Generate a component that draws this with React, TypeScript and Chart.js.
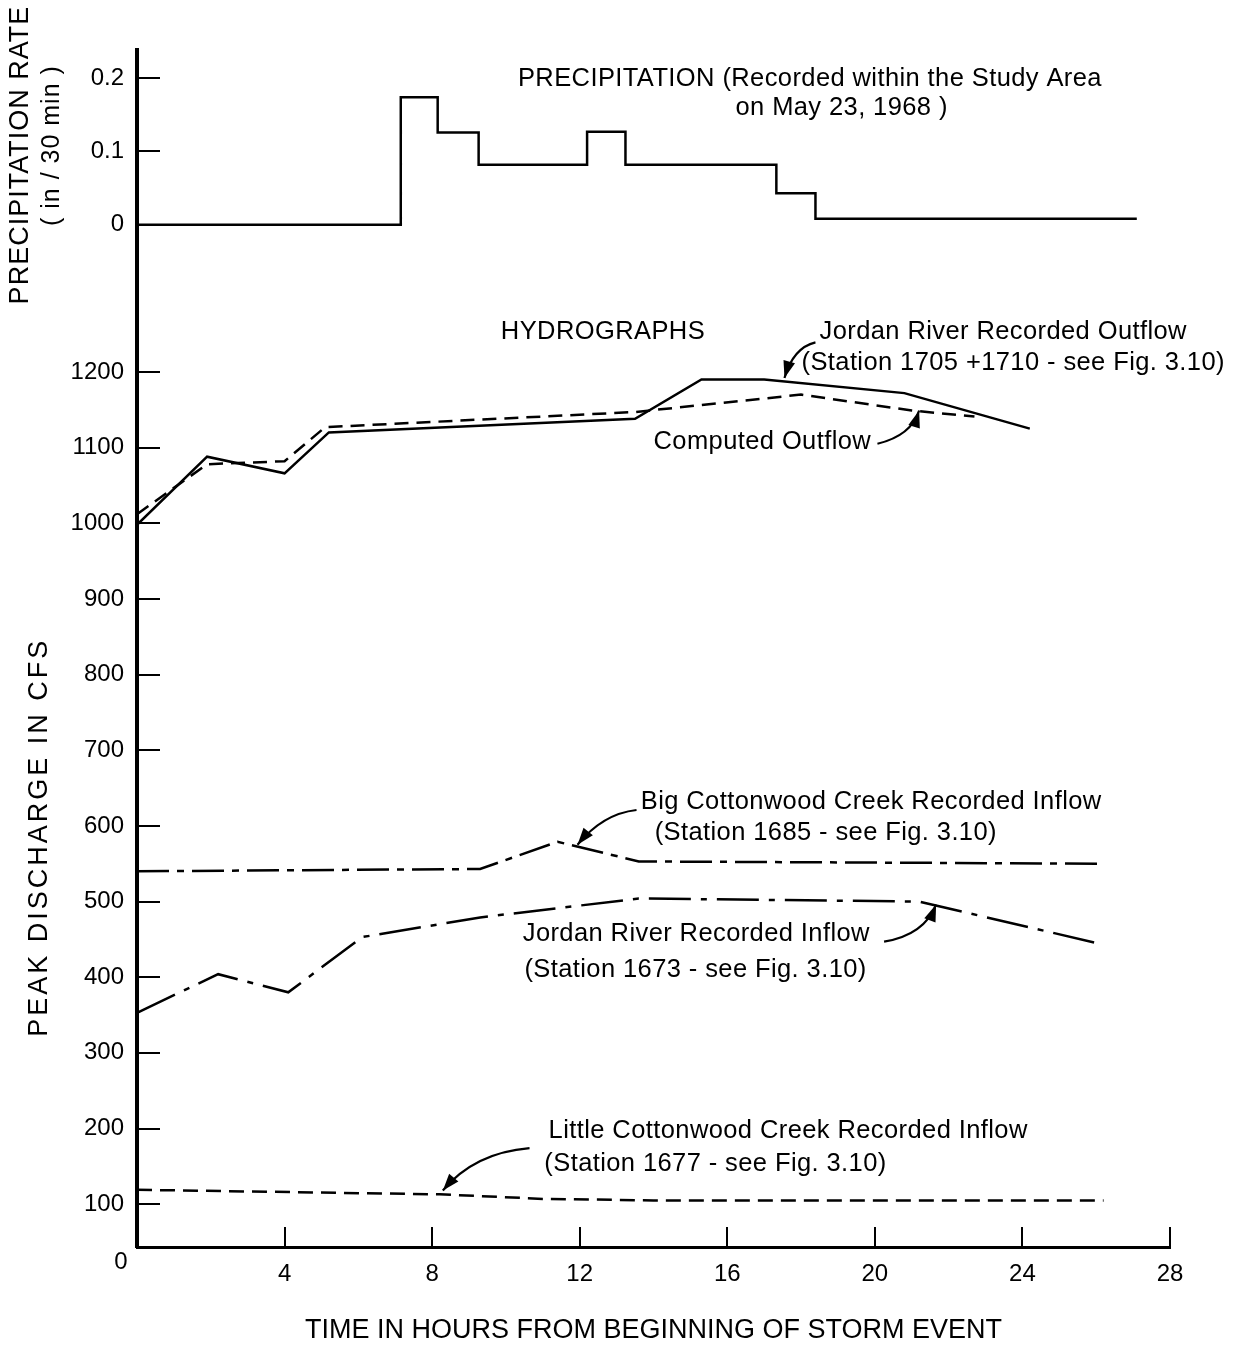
import React, { useEffect, useRef } from 'react';
import { Chart, registerables } from 'chart.js';

Chart.register(...registerables);

const FONT = "'Liberation Sans', Arial, sans-serif";

// ---- data ----
const precipHours = [0, 7.15, 8.15, 9.26, 12.2, 13.24, 17.33, 18.39, 27.1];
const precipRates = [0, 0.174, 0.126, 0.082, 0.127, 0.082, 0.043, 0.008, 0.008];

const outflowHours = [0, 1.9, 4.0, 5.2, 13.5, 15.3, 17.0, 20.8, 24.2];
const outflowCfs = [998, 1088, 1066, 1120, 1138, 1190, 1190, 1172, 1125];

const computedHours = [0, 1.9, 4.0, 5.1, 13.5, 18.0, 21.0, 22.7];
const computedCfs = [1012, 1078, 1082, 1127, 1147, 1170, 1149, 1141];

const bigCwHours = [0, 9.3, 11.4, 13.6, 26.2];
const bigCwCfs = [540, 543, 579, 553, 550];

const jordanInHours = [0, 2.2, 4.1, 6.1, 9.3, 13.6, 21.2, 26.2];
const jordanInCfs = [353, 404, 380, 453, 479, 504, 500, 443];

const littleCwHours = [0, 8.2, 11.0, 14.0, 26.2];
const littleCwCfs = [119, 113, 107, 105, 105];

const xTicks = [4, 8, 12, 16, 20, 24, 28];
const precipTicks = [0, 0.1, 0.2];
const dischargeTicks = [100, 200, 300, 400, 500, 600, 700, 800, 900, 1000, 1100, 1200];

const annotationTexts = [
  { text: 'PRECIPITATION (Recorded within the Study Area', hour: 18.24, value: 0.199, axis: 'yP' },
  { text: 'on May 23, 1968 )', hour: 19.1, value: 0.159, axis: 'yP' },
  { text: 'HYDROGRAPHS', hour: 12.63, value: 1253, axis: 'y' },
  { text: 'Jordan River Recorded Outflow', hour: 23.48, value: 1253, axis: 'y' },
  { text: '(Station 1705 +1710 - see Fig. 3.10)', hour: 23.75, value: 1212, axis: 'y' },
  { text: 'Computed Outflow', hour: 16.95, value: 1108, axis: 'y' },
  { text: 'Big Cottonwood Creek Recorded Inflow', hour: 19.9, value: 632, axis: 'y' },
  { text: '(Station 1685 - see Fig. 3.10)', hour: 18.67, value: 591, axis: 'y' },
  { text: 'Jordan River Recorded Inflow', hour: 15.16, value: 457, axis: 'y' },
  { text: '(Station 1673 - see Fig. 3.10)', hour: 15.14, value: 410, axis: 'y' },
  { text: 'Little Cottonwood Creek Recorded Inflow', hour: 17.65, value: 197, axis: 'y' },
  { text: '(Station 1677 - see Fig. 3.10)', hour: 15.68, value: 153, axis: 'y' },
];

// arrows: [start, control, end] in [hours, cfs]
const annotationArrows = [
  [[18.39, 1239], [17.79, 1232], [17.55, 1192]],
  [[20.07, 1105], [20.99, 1116], [21.2, 1149]],
  [[13.54, 621], [12.62, 616], [11.94, 575]],
  [[20.25, 447], [21.34, 456], [21.66, 496]],
  [[10.64, 174], [9.15, 168], [8.29, 118]],
];

const pts = (xs: number[], ys: number[]) => xs.map((x, i) => ({ x, y: ys[i] }));

const annotationPlugin = {
  id: 'annot',
  afterDraw(chart: any) {
    const { ctx, scales, chartArea } = chart;
    const xs = scales.x;
    ctx.save();
    ctx.fillStyle = '#000';
    ctx.strokeStyle = '#000';
    ctx.font = `25.5px ${FONT}`;
    (ctx as any).letterSpacing = '0.4px';
    ctx.textAlign = 'center';
    ctx.textBaseline = 'middle';
    for (const a of annotationTexts) {
      const ys = scales[a.axis];
      ctx.fillText(a.text, xs.getPixelForValue(a.hour), ys.getPixelForValue(a.value));
    }
    (ctx as any).letterSpacing = '0px';
    const ys = scales.y;
    ctx.lineWidth = 2.2;
    for (const arr of annotationArrows) {
      const p = arr.map(([h, v]) => [xs.getPixelForValue(h), ys.getPixelForValue(v)]);
      ctx.beginPath();
      ctx.moveTo(p[0][0], p[0][1]);
      ctx.quadraticCurveTo(p[1][0], p[1][1], p[2][0], p[2][1]);
      ctx.stroke();
      const ang = Math.atan2(p[2][1] - p[1][1], p[2][0] - p[1][0]);
      const L = 17, W = 6;
      ctx.beginPath();
      ctx.moveTo(p[2][0], p[2][1]);
      ctx.lineTo(p[2][0] - L * Math.cos(ang) + W * Math.sin(ang), p[2][1] - L * Math.sin(ang) - W * Math.cos(ang));
      ctx.lineTo(p[2][0] - L * Math.cos(ang) - W * Math.sin(ang), p[2][1] - L * Math.sin(ang) + W * Math.cos(ang));
      ctx.closePath();
      ctx.fill();
    }
    // origin label
    ctx.font = `24px ${FONT}`;
    ctx.fillText('0', chartArea.left - 16, chartArea.bottom + 15);
    // axis titles
    const rot = (text: string, x: number, y: number, size: number, spacing: number) => {
      ctx.save();
      ctx.translate(x, y);
      ctx.rotate(-Math.PI / 2);
      ctx.font = `${size}px ${FONT}`;
      (ctx as any).letterSpacing = `${spacing}px`;
      ctx.textAlign = 'center';
      ctx.textBaseline = 'middle';
      ctx.fillText(text, 0, 0);
      ctx.restore();
    };
    const yp = scales.yP;
    rot('PRECIPITATION RATE', chartArea.left - 116, yp.getPixelForValue(0.095), 27, 1);
    rot('( in / 30 min )', chartArea.left - 85, yp.getPixelForValue(0.108), 25, 1);
    rot('PEAK DISCHARGE IN CFS', chartArea.left - 97, ys.getPixelForValue(585), 27, 3);
    ctx.restore();
  },
};

export default function App() {
  const ref = useRef<HTMLCanvasElement | null>(null);
  useEffect(() => {
    if (!ref.current) return;
    const black = '#000';
    const lineDs = (data: any, dash: number[], axis = 'y') => ({
      data,
      yAxisID: axis,
      borderColor: black,
      borderWidth: 2.5,
      borderDash: dash,
      pointRadius: 0,
      tension: 0,
      fill: false,
    });
    const chart = new Chart(ref.current, {
      type: 'line',
      data: {
        datasets: [
          { ...lineDs(pts(precipHours, precipRates), [], 'yP'), stepped: 'before', label: 'Precipitation' },
          { ...lineDs(pts(outflowHours, outflowCfs), []), label: 'Jordan River Recorded Outflow' },
          { ...lineDs(pts(computedHours, computedCfs), [14, 8]), label: 'Computed Outflow' },
          { ...lineDs(pts(bigCwHours, bigCwCfs), [32, 8, 7, 8]), label: 'Big Cottonwood Creek Recorded Inflow' },
          { ...lineDs(pts(jordanInHours, jordanInCfs), [42, 10, 6, 10]), label: 'Jordan River Recorded Inflow' },
          { ...lineDs(pts(littleCwHours, littleCwCfs), [15, 8]), label: 'Little Cottonwood Creek Recorded Inflow' },
        ],
      } as any,
      options: {
        responsive: false,
        animation: false,
        layout: { padding: { top: 45, right: 85, left: 0, bottom: 0 } },
        plugins: { legend: { display: false }, tooltip: { enabled: false } },
        scales: {
          x: {
            type: 'linear',
            min: 0,
            max: 28,
            grid: { drawOnChartArea: false, tickLength: -20, color: black, lineWidth: 2 },
            border: { color: black, width: 3 },
            ticks: { padding: 33, color: black, font: { family: FONT, size: 24 }, autoSkip: false, maxRotation: 0 },
            afterBuildTicks: (s: any) => { s.ticks = xTicks.map((v) => ({ value: v })); },
            afterFit: (s: any) => { s.height = 100; },
            title: {
              display: true,
              text: 'TIME IN HOURS FROM BEGINNING OF STORM EVENT',
              color: black,
              font: { family: FONT, size: 27 },
              padding: 0,
            },
          },
          yP: {
            type: 'linear',
            position: 'left',
            stack: 'left',
            stackWeight: 245,
            weight: 2,
            min: -0.0952,
            max: 0.2381,
            grid: { drawOnChartArea: false, tickLength: -23, color: black, lineWidth: 2 },
            border: { color: black, width: 4 },
            ticks: {
              padding: 36,
              color: black,
              font: { family: FONT, size: 24 },
              callback: (v: any) => (v === 0 ? '0' : Number(v).toFixed(1)),
            },
            afterBuildTicks: (s: any) => { s.ticks = precipTicks.map((v) => ({ value: v })); },
            afterFit: (s: any) => { s.width = 137; },
          },
          y: {
            type: 'linear',
            position: 'left',
            stack: 'left',
            stackWeight: 957,
            weight: 1,
            min: 43.4,
            max: 1302.6,
            grid: { drawOnChartArea: false, tickLength: -23, color: black, lineWidth: 2 },
            border: { color: black, width: 4 },
            ticks: {
              padding: 36,
              color: black,
              font: { family: FONT, size: 24 },
              callback: (v: any) => String(v),
            },
            afterBuildTicks: (s: any) => { s.ticks = dischargeTicks.map((v) => ({ value: v })); },
            afterFit: (s: any) => { s.width = 137; },
          },
        },
      } as any,
      plugins: [annotationPlugin],
    });
    return () => chart.destroy();
  }, []);
  return (
    <div style={{ position: 'absolute', left: 0, top: 0, width: 1255, height: 1347, background: '#fff' }}>
      <canvas ref={ref} width={1255} height={1347} />
    </div>
  );
}
